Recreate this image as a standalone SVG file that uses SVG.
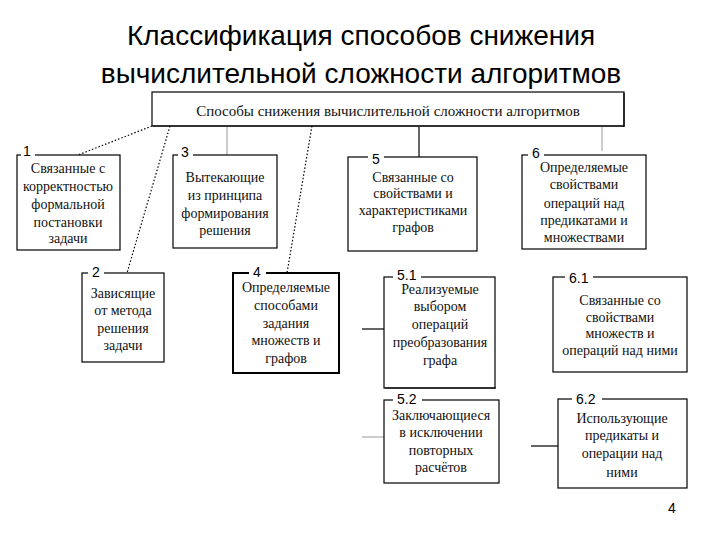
<svg xmlns="http://www.w3.org/2000/svg" width="720" height="540" viewBox="0 0 720 540">
<style>
.bx{fill:#fff;stroke:#000;stroke-width:1.2}
.bxt{fill:#fff;stroke:#000;stroke-width:2}
.t{font-family:"Liberation Serif","DejaVu Serif",serif;font-size:14px;fill:#111;text-anchor:middle}
.n{font-family:"Liberation Sans",Arial,sans-serif;font-size:14px;fill:#000}
.lb{fill:#fff}
.title{font-family:"Liberation Sans",Arial,sans-serif;font-size:28px;fill:#000;text-anchor:middle}
.dot{stroke:#000;stroke-width:1.2;stroke-dasharray:1.5 2;fill:none}
.ln{stroke:#000;stroke-width:1.2;fill:none}
.gl{stroke:#aaa;stroke-width:1.2;fill:none}
</style>
<rect width="720" height="540" fill="#fff"/>
<g id="title">
<text class="title" x="361" y="45">Классификация способов снижения</text>
<text class="title" x="361" y="83">вычислительной сложности алгоритмов</text>
</g>
<g id="connectors">
<line class="dot" x1="152" y1="126" x2="78" y2="155"/>
<line class="dot" x1="170" y1="126" x2="127" y2="273"/>
<line class="dot" x1="312" y1="126" x2="287" y2="273"/>
<line class="gl" x1="227" y1="127" x2="227" y2="155"/>
<line class="ln" x1="419" y1="127" x2="419" y2="157"/>
<line class="gl" x1="602" y1="127" x2="602" y2="151"/>
<line class="ln" x1="362" y1="329" x2="384" y2="329"/>
<line class="gl" x1="362" y1="437" x2="384" y2="437"/>
<line class="ln" x1="531" y1="446" x2="558" y2="446"/>
</g>
<g id="root">
<rect class="bx" x="152" y="92" width="472" height="34"/>
<line class="ln" x1="624" y1="93" x2="624" y2="127" stroke-width="2"/>
<line class="ln" x1="153" y1="126" x2="624" y2="126" stroke-width="2"/>
<text class="t" x="388" y="116" style="font-size:15px">Способы снижения вычислительной сложности алгоритмов</text>
</g>
<g id="n1">
<rect class="bx" x="17" y="155" width="103" height="95"/>
<rect class="lb" x="21" y="148" width="14" height="12"/>
<text class="n" x="23" y="156">1</text>
<text class="t" x="68" y="173">Связанные с</text>
<text class="t" x="68" y="191">корректностью</text>
<text class="t" x="68" y="209">формальной</text>
<text class="t" x="68" y="227">постановки</text>
<text class="t" x="68" y="243">задачи</text>
</g>
<g id="n3">
<rect class="bx" x="173" y="155" width="104" height="93"/>
<rect class="lb" x="178" y="148" width="15" height="12"/>
<text class="n" x="181" y="157">3</text>
<text class="t" x="225" y="182">Вытекающие</text>
<text class="t" x="225" y="200">из принципа</text>
<text class="t" x="225" y="218">формирования</text>
<text class="t" x="225" y="235">решения</text>
</g>
<g id="n5">
<rect class="bx" x="348" y="157" width="129" height="94"/>
<rect class="lb" x="368" y="150" width="16" height="12"/>
<text class="n" x="372" y="164">5</text>
<text class="t" x="413" y="182">Связанные со</text>
<text class="t" x="413" y="198">свойствами и</text>
<text class="t" x="413" y="215">характеристиками</text>
<text class="t" x="413" y="232">графов</text>
</g>
<g id="n6">
<rect class="bx" x="522" y="155" width="124" height="94"/>
<rect class="lb" x="528" y="148" width="16" height="12"/>
<text class="n" x="532" y="158">6</text>
<text class="t" x="584" y="172">Определяемые</text>
<text class="t" x="584" y="189">свойствами</text>
<text class="t" x="584" y="208">операций над</text>
<text class="t" x="584" y="225">предикатами и</text>
<text class="t" x="584" y="242">множествами</text>
</g>
<g id="n2">
<rect class="bx" x="82" y="273" width="82" height="89"/>
<rect class="lb" x="88" y="266" width="16" height="12"/>
<text class="n" x="92" y="277">2</text>
<text class="t" x="123" y="298">Зависящие</text>
<text class="t" x="123" y="315">от метода</text>
<text class="t" x="123" y="333">решения</text>
<text class="t" x="123" y="350">задачи</text>
</g>
<g id="n4">
<rect class="bxt" x="233" y="273" width="106" height="100"/>
<rect class="lb" x="249" y="266" width="17" height="12"/>
<text class="n" x="253" y="277">4</text>
<text class="t" x="286" y="292">Определяемые</text>
<text class="t" x="286" y="310">способами</text>
<text class="t" x="286" y="328">задания</text>
<text class="t" x="286" y="345">множеств и</text>
<text class="t" x="286" y="363">графов</text>
</g>
<g id="n51">
<rect class="bx" x="384" y="277" width="111" height="111"/>
<line class="ln" x1="385" y1="388" x2="496" y2="388" stroke-width="2"/>
<rect class="lb" x="393" y="270" width="28" height="12"/>
<text class="n" x="397" y="280">5.1</text>
<text class="t" x="440" y="294">Реализуемые</text>
<text class="t" x="440" y="311">выбором</text>
<text class="t" x="440" y="329">операций</text>
<text class="t" x="440" y="347">преобразования</text>
<text class="t" x="440" y="365">графа</text>
</g>
<g id="n61">
<rect class="bx" x="553" y="277" width="134" height="95"/>
<rect class="lb" x="565" y="270" width="28" height="12"/>
<text class="n" x="569" y="283">6.1</text>
<text class="t" x="620" y="305">Связанные со</text>
<text class="t" x="620" y="322">свойствами</text>
<text class="t" x="620" y="338">множеств и</text>
<text class="t" x="620" y="355">операций над  ними</text>
</g>
<g id="n52">
<rect class="bx" x="384" y="400" width="115" height="83"/>
<rect class="lb" x="393" y="393" width="29" height="12"/>
<text class="n" x="397" y="404">5.2</text>
<text class="t" x="441" y="420">Заключающиеся</text>
<text class="t" x="441" y="437">в исключении</text>
<text class="t" x="441" y="455">повторных</text>
<text class="t" x="441" y="472">расчётов</text>
</g>
<g id="n62">
<rect class="bx" x="558" y="399" width="129" height="89"/>
<rect class="lb" x="572" y="392" width="30" height="12"/>
<text class="n" x="576" y="404">6.2</text>
<text class="t" x="622" y="423">Использующие</text>
<text class="t" x="622" y="440">предикаты и</text>
<text class="t" x="622" y="458">операции над</text>
<text class="t" x="622" y="477">ними</text>
</g>
<g id="page">
<text class="n" x="668" y="513">4</text>
</g>
</svg>
